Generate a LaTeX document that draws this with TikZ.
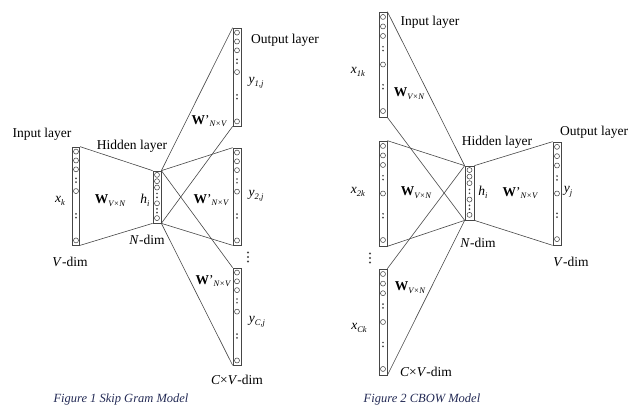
\documentclass[tikz,border=0pt]{standalone}
\usepackage{fontspec}
\setmainfont{Liberation Serif}
\usetikzlibrary{calc}
\definecolor{linec}{RGB}{70,70,70}
\definecolor{capc}{RGB}{35,42,85}
\newcommand\sbs[1]{\raisebox{-0.45ex}{\fontsize{8.5}{9}\selectfont\itshape #1}}
\newcommand\Wm[1]{\textbf{W}\sbs{#1}}
\newcommand\Wp[1]{\textbf{W}'\sbs{#1}}
\newcommand\colfill[2]{%
  \foreach \f in {#2} {\draw[linec, line width=0.55pt] ($(#1.north)!\f!(#1.south)$) circle (2.5pt);}%
}
\newcommand\coldots[2]{%
  \foreach \f in {#2} {%
    \fill[linec] ($(#1.north)!\f!(#1.south)+(0,-1.9)$) circle (0.95pt);
    \fill[linec] ($(#1.north)!\f!(#1.south)+(0,1.9)$) circle (0.95pt);}%
}
\tikzset{
  colbox/.style={draw=linec, line width=0.7pt, rectangle, inner sep=0pt, minimum width=8pt},
  conn/.style={draw=linec, line width=0.6pt},
  lab/.style={font=\fontsize{13.5}{15}\selectfont, inner sep=0pt, text=black},
  figcap/.style={font=\fontsize{12.5}{14}\selectfont\itshape, text=capc, inner sep=0pt}
}
\begin{document}
\begin{tikzpicture}[x=1pt,y=-1pt]
\useasboundingbox (0,0) rectangle (632,405);
% ---------- Skip gram ----------
\node[colbox, minimum width=7.5pt, minimum height=98pt] (sin) at (76,196) {};
\node[colbox, minimum height=52pt] (shid) at (157,197) {};
\node[colbox, minimum height=98pt] (sout1) at (237,77) {};
\node[colbox, minimum height=97pt] (sout2) at (237,196.5) {};
\node[colbox, minimum height=97pt] (sout3) at (237,316.5) {};
\foreach \b in {sin,sout1,sout2,sout3} {\colfill{\b}{0.05,0.14,0.23,0.45,0.95}\coldots{\b}{0.34,0.70}}
\colfill{shid}{0.08,0.2,0.32,0.62,0.9}\coldots{shid}{0.47,0.76}
\draw[conn] (sin.north east) -- (shid.north west);
\draw[conn] (sin.south east) -- (shid.south west);
\foreach \o in {sout1,sout2,sout3} {
  \draw[conn] (shid.north east) -- (\o.north west);
  \draw[conn] (shid.south east) -- (\o.south west);
}
\node[lab] (sinlab) at (42,134) {Input layer};
\node[lab] (shidlab) at (132,146) {Hidden layer};
\node[lab] (soutlab) at (285,40) {Output layer};
\node[lab] (sy1) at (256,83) {\textit{y}\sbs{1,j}};
\node[lab] (sw1) at (209,121) {\Wp{N×V}};
\node[lab] (sx) at (60,201) {\textit{x}\sbs{k}};
\node[lab] (sw0) at (110,201) {\Wm{V×N}};
\node[lab] (sh) at (145,200) {\textit{h}\sbs{i}};
\node[lab] (sw2) at (211,200) {\Wp{N×V}};
\node[lab] (sy2) at (256,196) {\textit{y}\sbs{2,j}};
\node[lab] (sndim) at (147,240) {\textit{N}-dim};
\node[lab] (svdim) at (70,262) {\textit{V}-dim};
\node[lab] (sw3) at (213,281) {\Wp{N×V}};
\node[lab] (syc) at (257,322) {\textit{y}\sbs{C,j}};
\node[lab] (scv) at (237,380) {\textit{C}×\textit{V}-dim};
\node[inner sep=0pt] (svd) at (248,257) {};
\foreach \d in {-4.5,0,4.5} \fill[linec] ($(svd)+(0,\d)$) circle (1.2pt);
\node[figcap] (cap1) at (121,399) {Figure 1 Skip Gram Model};
% ---------- CBOW ----------
\node[colbox, minimum height=105pt] (cin1) at (383,64.5) {};
\node[colbox, minimum height=105pt] (cin2) at (383,193.5) {};
\node[colbox, minimum height=106pt] (cin3) at (383,322) {};
\node[colbox, minimum width=9pt, minimum height=54pt] (chid) at (469.5,193) {};
\node[colbox, minimum height=103pt] (cout) at (557,193.5) {};
\foreach \b in {cin1,cin2,cin3,cout} {\colfill{\b}{0.05,0.14,0.23,0.5,0.94}\coldots{\b}{0.35,0.71}}
\colfill{chid}{0.08,0.2,0.32,0.62,0.9}\coldots{chid}{0.47,0.76}
\foreach \i in {cin1,cin2,cin3} {
  \draw[conn] (\i.north east) -- (chid.north west);
  \draw[conn] (\i.south east) -- (chid.south west);
}
\draw[conn] (chid.north east) -- (cout.north west);
\draw[conn] (chid.south east) -- (cout.south west);
\node[lab] (cinlab) at (430,22) {Input layer};
\node[lab, anchor=west] (coutlab) at (560,132) {Output layer};
\node[lab] (chidlab) at (497,142) {Hidden layer};
\node[lab] (cx1) at (358,72) {\textit{x}\sbs{1k}};
\node[lab] (cw1) at (409,94) {\Wm{V×N}};
\node[lab] (cx2) at (358,192) {\textit{x}\sbs{2k}};
\node[lab] (cw2) at (416,193) {\Wm{V×N}};
\node[lab] (ch) at (483,192) {\textit{h}\sbs{i}};
\node[lab] (cw3) at (520,193) {\Wp{N×V}};
\node[lab] (cy) at (568,192) {\textit{y}\sbs{j}};
\node[lab] (cndim) at (478,243) {\textit{N}-dim};
\node[lab] (cvdim) at (571,262) {\textit{V}-dim};
\node[lab] (cw4) at (410,288) {\Wm{V×N}};
\node[lab] (cxc) at (359,328) {\textit{x}\sbs{Ck}};
\node[lab] (ccv) at (426,372) {\textit{C}×\textit{V}-dim};
\node[inner sep=0pt] (cvd) at (370,258) {};
\foreach \d in {-4.5,0,4.5} \fill[linec] ($(cvd)+(0,\d)$) circle (1.2pt);
\node[figcap] (cap2) at (422,399) {Figure 2 CBOW Model};
\end{tikzpicture}
\end{document}
